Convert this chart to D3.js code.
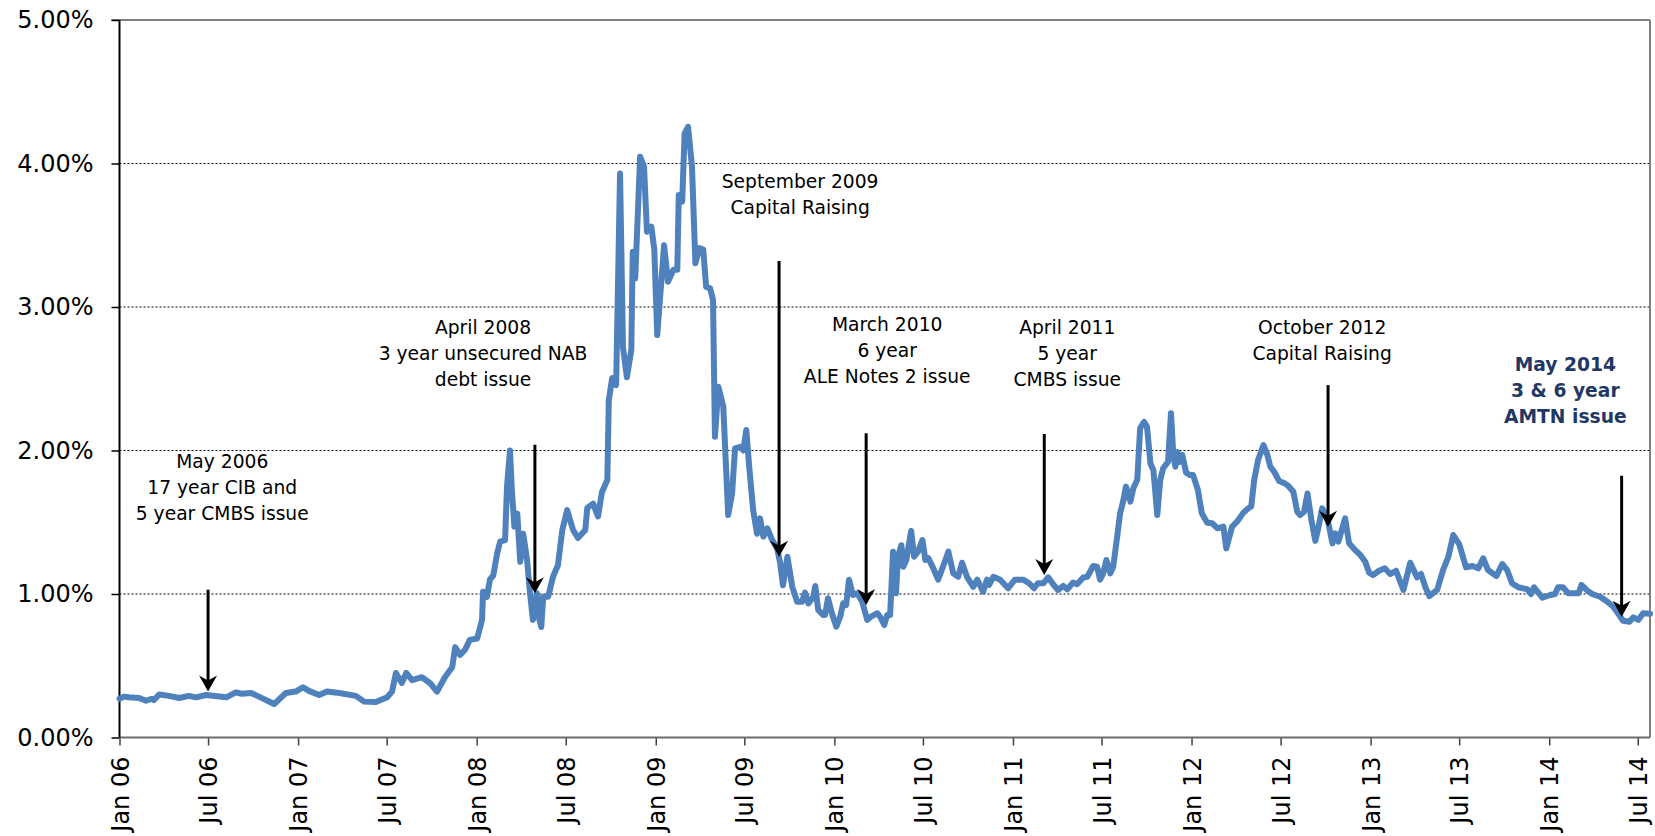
<!DOCTYPE html>
<html>
<head>
<meta charset="utf-8">
<script src="https://cdn.jsdelivr.net/npm/d3@7"></script>
<style>
body{margin:0;background:#fff;}
svg{display:block;font-family:"DejaVu Sans",Verdana,sans-serif;}
</style>
</head>
<body>
<div id="chart"></div>
<script>
var w = 1655;
var h = 836;

// weekly spread (per cent)
var dates = [
"2006-01-01","2006-01-10","2006-01-20","2006-02-10","2006-02-24","2006-03-08","2006-03-12","2006-03-23","2006-04-12","2006-05-03",
"2006-05-23","2006-06-06","2006-06-27","2006-08-07","2006-08-27","2006-09-08","2006-09-27","2006-10-13","2006-11-13","2006-12-07",
"2006-12-27","2007-01-11","2007-01-23","2007-02-13","2007-03-01","2007-03-26","2007-04-29","2007-05-16","2007-06-09","2007-07-02",
"2007-07-12","2007-07-20","2007-08-01","2007-08-10","2007-08-22","2007-09-11","2007-09-28","2007-10-12","2007-10-28","2007-11-12",
"2007-11-18","2007-11-28","2007-12-08","2007-12-18","2008-01-02","2008-01-12","2008-01-14","2008-01-22","2008-01-28","2008-02-04",
"2008-02-12","2008-02-18","2008-02-28","2008-03-03","2008-03-09","2008-03-13","2008-03-18","2008-03-24","2008-03-30","2008-04-05",
"2008-04-13","2008-04-19","2008-04-25","2008-05-03","2008-05-07","2008-05-12","2008-05-16","2008-05-26","2008-06-05","2008-06-15",
"2008-06-24","2008-07-04","2008-07-16","2008-07-26","2008-08-10","2008-08-14","2008-08-26","2008-09-05","2008-09-13","2008-09-24",
"2008-09-27","2008-10-04","2008-10-12","2008-10-20","2008-10-26","2008-11-03","2008-11-12","2008-11-15","2008-11-20","2008-11-30",
"2008-12-08","2008-12-14","2008-12-23","2008-12-29","2009-01-04","2009-01-18","2009-01-26","2009-02-06","2009-02-14","2009-02-17",
"2009-02-24","2009-03-01","2009-03-08","2009-03-16","2009-03-23","2009-03-31","2009-04-08","2009-04-14","2009-04-22","2009-04-28",
"2009-05-02","2009-05-09","2009-05-19","2009-05-29","2009-06-06","2009-06-12","2009-06-23","2009-06-29","2009-07-05","2009-07-11",
"2009-07-19","2009-07-27","2009-08-02","2009-08-09","2009-08-17","2009-08-27","2009-09-06","2009-09-12","2009-09-18","2009-09-27",
"2009-10-07","2009-10-17","2009-10-27","2009-11-02","2009-11-09","2009-11-19","2009-11-23","2009-11-29","2009-12-09","2009-12-13",
"2009-12-19","2009-12-27","2010-01-05","2010-01-13","2010-01-19","2010-01-25","2010-01-31","2010-02-08","2010-02-17","2010-02-27",
"2010-03-09","2010-03-17","2010-03-30","2010-04-05","2010-04-13","2010-04-19","2010-04-25","2010-05-01","2010-05-07","2010-05-11",
"2010-05-18","2010-05-22","2010-05-28","2010-06-07","2010-06-13","2010-06-21","2010-06-30","2010-07-06","2010-07-12","2010-07-22",
"2010-08-01","2010-08-11","2010-08-22","2010-09-01","2010-09-11","2010-09-19","2010-09-29","2010-10-12","2010-10-20","2010-11-01",
"2010-11-09","2010-11-13","2010-11-22","2010-12-06","2010-12-22","2011-01-05","2011-01-22","2011-02-03","2011-02-13","2011-02-21",
"2011-03-04","2011-03-14","2011-03-24","2011-04-03","2011-04-14","2011-04-22","2011-05-04","2011-05-12","2011-05-25","2011-06-02",
"2011-06-14","2011-06-22","2011-06-28","2011-07-04","2011-07-11","2011-07-19","2011-07-25","2011-08-02","2011-08-08","2011-08-14",
"2011-08-20","2011-08-29","2011-09-04","2011-09-12","2011-09-18","2011-09-26","2011-10-02","2011-10-09","2011-10-15","2011-10-23",
"2011-10-29","2011-11-04","2011-11-14","2011-11-20","2011-11-25","2011-11-29","2011-12-03","2011-12-07","2011-12-13","2011-12-21",
"2011-12-29","2012-01-04","2012-01-14","2012-01-22","2012-02-02","2012-02-12","2012-02-23","2012-03-06","2012-03-12","2012-03-24",
"2012-04-03","2012-04-16","2012-04-26","2012-05-02","2012-05-08","2012-05-16","2012-05-27","2012-06-04","2012-06-10","2012-06-18",
"2012-06-28","2012-07-09","2012-07-17","2012-07-27","2012-08-04","2012-08-10","2012-08-18","2012-08-25","2012-09-02","2012-09-10",
"2012-09-16","2012-09-24","2012-10-04","2012-10-15","2012-10-21","2012-10-27","2012-11-10","2012-11-18","2012-11-29","2012-12-11",
"2012-12-21","2012-12-29","2013-01-06","2013-01-18","2013-01-30","2013-02-10","2013-02-22","2013-03-09","2013-03-23","2013-04-06",
"2013-04-14","2013-04-23","2013-05-01","2013-05-17","2013-05-29","2013-06-09","2013-06-19","2013-07-01","2013-07-15","2013-07-28",
"2013-08-09","2013-08-19","2013-08-29","2013-09-15","2013-09-27","2013-10-07","2013-10-17","2013-10-30","2013-11-17","2013-11-25",
"2013-12-01","2013-12-18","2014-01-03","2014-01-13","2014-01-19","2014-01-29","2014-02-09","2014-03-02","2014-03-08","2014-03-20",
"2014-03-30","2014-04-15","2014-04-30","2014-05-12","2014-05-24","2014-06-01","2014-06-14","2014-06-22","2014-07-02","2014-07-12",
"2014-07-26"
];
var spreads = [
0.27,0.285,0.28,0.275,0.256,0.27,0.26,0.30,0.29,0.275,
0.29,0.28,0.296,0.28,0.315,0.305,0.31,0.285,0.233,0.31,
0.32,0.35,0.325,0.296,0.32,0.31,0.29,0.25,0.247,0.28,
0.32,0.45,0.38,0.45,0.40,0.42,0.378,0.32,0.42,0.49,
0.63,0.575,0.61,0.68,0.69,0.82,1.016,0.98,1.10,1.13,
1.285,1.365,1.376,1.75,2.00,1.72,1.47,1.56,1.225,1.42,
1.237,1.005,0.82,1.005,0.84,0.77,0.98,0.98,1.12,1.20,
1.446,1.585,1.446,1.39,1.446,1.60,1.63,1.54,1.71,1.795,
2.35,2.505,2.456,3.93,2.72,2.51,2.70,3.385,3.20,4.047,
3.98,3.525,3.56,3.40,2.805,3.43,3.176,3.26,3.26,3.78,
3.734,4.21,4.256,3.98,3.305,3.41,3.40,3.14,3.13,3.05,
2.096,2.445,2.305,1.55,1.70,2.015,2.026,2.00,2.143,1.887,
1.585,1.42,1.527,1.40,1.458,1.376,1.318,1.22,1.06,1.26,
1.05,0.946,0.946,1.01,0.935,0.98,1.056,0.889,0.854,0.854,
0.97,0.866,0.772,0.842,0.935,0.923,1.10,0.993,1.005,0.946,
0.82,0.842,0.866,0.838,0.784,0.854,0.854,1.295,1.005,1.26,
1.34,1.19,1.237,1.44,1.26,1.295,1.376,1.237,1.25,1.18,
1.10,1.19,1.295,1.144,1.12,1.218,1.12,1.05,1.10,1.016,
1.10,1.063,1.12,1.10,1.04,1.10,1.10,1.075,1.04,1.075,
1.075,1.116,1.068,1.028,1.056,1.033,1.08,1.068,1.116,1.12,
1.195,1.19,1.10,1.14,1.237,1.144,1.19,1.40,1.562,1.643,
1.748,1.643,1.737,1.794,2.155,2.20,2.166,1.91,1.864,1.55,
1.794,1.876,1.922,2.26,1.957,1.887,1.99,1.92,1.969,1.845,
1.829,1.83,1.725,1.562,1.497,1.493,1.458,1.47,1.318,1.47,
1.504,1.567,1.597,1.61,1.794,1.934,2.038,1.969,1.887,1.852,
1.787,1.771,1.753,1.713,1.573,1.55,1.573,1.70,1.516,1.37,
1.458,1.597,1.539,1.353,1.423,1.365,1.527,1.353,1.311,1.272,
1.225,1.148,1.132,1.162,1.179,1.139,1.162,1.028,1.218,1.116,
1.14,1.047,0.986,1.028,1.167,1.26,1.411,1.348,1.186,1.195,
1.179,1.249,1.167,1.125,1.209,1.167,1.075,1.047,1.033,1.0,
1.047,0.974,0.993,1.0,1.047,1.047,1.005,1.005,1.063,1.023,
1.0,0.981,0.946,0.911,0.854,0.814,0.807,0.838,0.819,0.866,
0.862
];

var yTicks = [0, 1, 2, 3, 4, 5];
var xTickDates = ["2006-01-01","2006-07-01","2007-01-01","2007-07-01","2008-01-01","2008-07-01",
  "2009-01-01","2009-07-01","2010-01-01","2010-07-01","2011-01-01","2011-07-01","2012-01-01",
  "2012-07-01","2013-01-01","2013-07-01","2014-01-01","2014-07-01"];

// event notes
var noteLines = [
  ["May 2006","17 year CIB and","5 year CMBS issue"],
  ["April 2008","3 year unsecured NAB","debt issue"],
  ["September 2009","Capital Raising"],
  ["March 2010","6 year","ALE Notes 2 issue"],
  ["April 2011","5 year","CMBS issue"],
  ["October 2012","Capital Raising"],
  ["May 2014","3 & 6 year","AMTN issue"]
];
var noteArrowDates = ["2006-07-01","2008-04-29","2009-09-10","2010-03-07","2011-03-06","2012-10-06","2014-05-29"];
var noteArrowFrom = [1.03, 2.04, 3.32, 2.12, 2.115, 2.456, 1.824];
var noteArrowTo = [0.32, 1.005, 1.26, 0.923, 1.132, 1.469, 0.842];
var noteTextDates = ["2006-07-30","2008-01-14","2009-10-23","2010-04-19","2011-04-22","2012-09-24","2014-02-03"];
var noteTextValues = [1.93, 2.863, 3.88, 2.882, 2.863, 2.863, 2.60];
var noteBold = [false, false, false, false, false, false, true];

var parse = d3.timeParse("%Y-%m-%d");

var plotL = 119.5, plotR = 1650, plotT = 20, plotB = 737.5;

var x = d3.scaleTime()
  .domain([parse("2006-01-01"), parse("2014-07-26")])
  .range([plotL, plotR]);
var y = d3.scaleLinear()
  .domain([0, 5])
  .range([plotB, plotT]);

var svg = d3.select("#chart").append("svg")
  .attr("width", w)
  .attr("height", h)
  .style("background", "#fff");

// dotted gridlines
svg.append("g")
  .selectAll("line")
  .data(yTicks.filter(function(d){ return d > 0 && d < 5; }))
  .enter().append("line")
    .attr("x1", plotL).attr("x2", plotR)
    .attr("y1", function(d){ return y(d); })
    .attr("y2", function(d){ return y(d); })
    .style("stroke", "#000")
    .style("stroke-width", 1)
    .style("stroke-dasharray", "2,2");

// frame: grey top/right
svg.append("line").attr("x1", plotL - 8).attr("x2", plotR).attr("y1", y(5)).attr("y2", y(5))
  .style("stroke", "#808080").style("stroke-width", 2);
svg.append("line").attr("x1", plotR).attr("x2", plotR).attr("y1", y(5)).attr("y2", y(0))
  .style("stroke", "#808080").style("stroke-width", 2);

// y axis
var yAxis = svg.append("g")
  .attr("transform", "translate(" + plotL + ",0)")
  .call(d3.axisLeft(y).tickValues(yTicks)
    .tickFormat(function(d){ return d.toFixed(2) + "%"; })
    .tickSize(8).tickPadding(18));
yAxis.select(".domain").remove();
yAxis.selectAll(".tick line").style("stroke", "#000").style("stroke-width", 1.5);
yAxis.selectAll(".tick text")
  .style("font-size", "24px")
  .style("fill", "#000");
yAxis.attr("font-family", null).attr("font-size", null);

// x axis
var xAxis = svg.append("g")
  .attr("transform", "translate(0," + plotB + ")")
  .call(d3.axisBottom(x).tickValues(xTickDates.map(parse))
    .tickFormat(d3.timeFormat("%b %y"))
    .tickSize(8));
xAxis.select(".domain").remove();
xAxis.attr("font-family", null).attr("font-size", null);
xAxis.selectAll(".tick line").style("stroke", "#404040").style("stroke-width", 1.5);
xAxis.selectAll(".tick text")
  .attr("transform", "rotate(-90)")
  .attr("x", -19)
  .attr("y", 0)
  .attr("dy", "0.36em")
  .style("text-anchor", "end")
  .style("font-size", "24px")
  .style("fill", "#000");

svg.append("line").attr("x1", plotL).attr("x2", plotR).attr("y1", plotB).attr("y2", plotB)
  .style("stroke", "#6b6b6b").style("stroke-width", 2);
svg.append("line").attr("x1", plotL).attr("x2", plotL).attr("y1", y(5)).attr("y2", plotB)
  .style("stroke", "#000").style("stroke-width", 2);

// spread line
var line = d3.line()
  .x(function(d){ return x(d.date); })
  .y(function(d){ return y(d.v); });

var series = dates.map(function(d, i){ return {date: parse(d), v: spreads[i]}; });

svg.append("path")
  .datum(series)
  .attr("d", line)
  .style("fill", "none")
  .style("stroke", "#4F81BD")
  .style("stroke-width", 6)
  .style("stroke-linejoin", "round")
  .style("stroke-linecap", "round");

// notes with arrows
var notes = noteLines.map(function(l, i){
  return {lines: l, ad: parse(noteArrowDates[i]), from: noteArrowFrom[i], to: noteArrowTo[i],
    td: parse(noteTextDates[i]), tv: noteTextValues[i], bold: noteBold[i]};
});

var ng = svg.append("g").selectAll("g").data(notes).enter().append("g");

ng.append("line")
  .attr("x1", function(d){ return x(d.ad); })
  .attr("x2", function(d){ return x(d.ad); })
  .attr("y1", function(d){ return y(d.from); })
  .attr("y2", function(d){ return y(d.to) - 8; })
  .style("stroke", "#000")
  .style("stroke-width", 3);

ng.append("path")
  .attr("transform", function(d){ return "translate(" + x(d.ad) + "," + y(d.to) + ")"; })
  .attr("d", "M0,0L-9,-16L0,-11L9,-16Z")
  .style("fill", "#000");

ng.each(function(d){
  var t = d3.select(this).append("text")
    .attr("x", x(d.td))
    .attr("y", y(d.tv))
    .attr("dominant-baseline", "central")
    .style("text-anchor", "middle")
    .style("font-size", "18.7px")
    .style("font-weight", d.bold ? "bold" : "normal")
    .style("fill", d.bold ? "#1F3864" : "#000");
  t.selectAll("tspan").data(d.lines).enter().append("tspan")
    .attr("x", x(d.td))
    .attr("dy", function(s, i){ return i === 0 ? 0 : 26; })
    .text(function(s){ return s; });
});
</script>
</body>
</html>
